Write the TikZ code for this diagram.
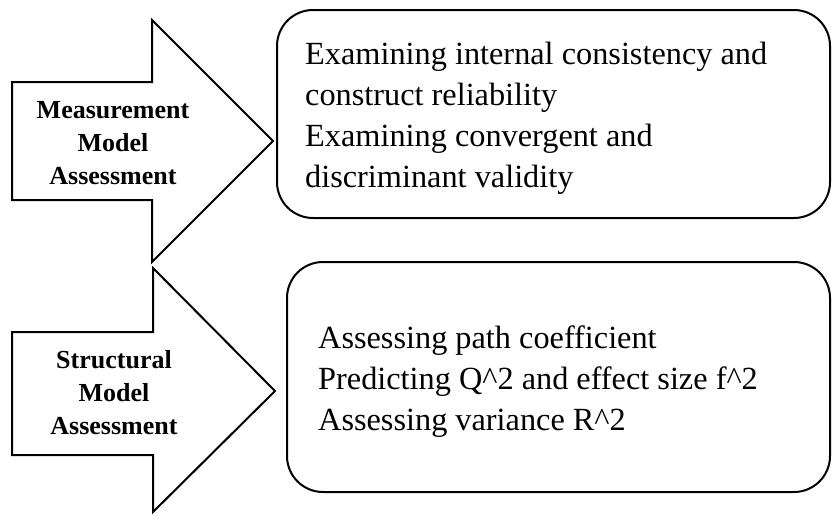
\documentclass[tikz,border=0pt]{standalone}
\usepackage{fontspec}
\setmainfont{Liberation Serif}
\begin{document}
\begin{tikzpicture}[x=1pt,y=-1pt,
  shapeline/.style={draw=black,line width=2pt,line join=miter,fill=white},
  boxline/.style={draw=black,line width=2pt,rounded corners=36pt,fill=white},
  arrowtext/.style={align=center,font=\bfseries\fontsize{26}{33}\selectfont,inner sep=0pt},
  boxtext/.style={align=left,anchor=west,font=\fontsize{32.3}{41}\selectfont,inner sep=0pt}]
\useasboundingbox (0,0) rectangle (832,514);
% arrow 1
\draw[shapeline] (12,82) -- (152,82) -- (152,20) -- (273,141) -- (152,262) -- (152,200) -- (12,200) -- cycle;
\node[arrowtext] (a1) at (113,143) {Measurement\\Model\\Assessment};
% box 1
\draw[boxline] (277,10) rectangle (830,218);
\node[boxtext] (t1) at (305,118) {Examining internal consistency and\\construct reliability\\Examining convergent and\\discriminant validity};
% arrow 2
\draw[shapeline] (12,332) -- (153,332) -- (153,268) -- (275,391) -- (153,512) -- (153,455) -- (12,455) -- cycle;
\node[arrowtext] (a2) at (114,393) {Structural\\Model\\Assessment};
% box 2
\draw[boxline] (287,262) rectangle (830,492);
\node[boxtext] (t2) at (318,382) {Assessing path coefficient\\Predicting Q\^{}2 and effect size f\^{}2\\Assessing variance R\^{}2};
\end{tikzpicture}
\end{document}
